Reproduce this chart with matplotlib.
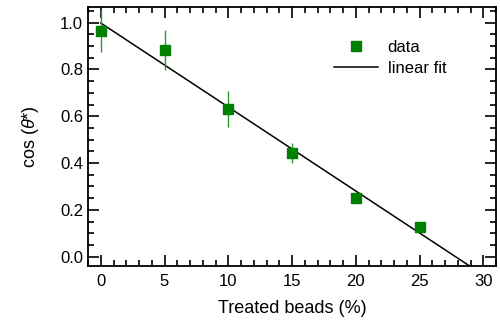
import numpy as np
import matplotlib
matplotlib.use("Agg")
import matplotlib.pyplot as plt
from matplotlib.lines import Line2D
from matplotlib.ticker import MultipleLocator

# data
beads = [0, 5, 10, 15, 20, 25]
cos_theta = [0.966, 0.883, 0.631, 0.442, 0.252, 0.126]
cos_err = [0.09, 0.085, 0.075, 0.043, 0.012, 0.01]
x_ticks = [0, 5, 10, 15, 20, 25, 30]
y_ticks = [0.0, 0.2, 0.4, 0.6, 0.8, 1.0]

plt.rcParams["font.family"] = ["Liberation Sans", "DejaVu Sans"]
plt.rcParams["mathtext.fontset"] = "custom"
plt.rcParams["mathtext.it"] = "Liberation Sans:italic"
plt.rcParams["mathtext.rm"] = "Liberation Sans"

green = "#008000"

fig = plt.figure(figsize=(5.0, 3.27), dpi=100)
ax = fig.add_axes([0.176, 0.1865, 0.816, 0.792])

# linear fit through the points
slope, icpt = np.polyfit(beads, cos_theta, 1)
xf = np.array([0, 31])
ax.plot(xf, icpt + slope * xf, color="black", lw=1.1, zorder=2)

ax.errorbar(beads, cos_theta, yerr=cos_err, fmt="s", color=green,
            ecolor="#2a9a2a", elinewidth=1.0, markersize=7, capsize=0,
            zorder=3)

ax.set_xlim(-1, 31)
ax.set_ylim(-0.04, 1.067)
ax.set_xticks(x_ticks)
ax.set_yticks(y_ticks)
ax.set_yticklabels([f"{v:.1f}" for v in y_ticks])
ax.xaxis.set_minor_locator(MultipleLocator(1))
ax.yaxis.set_minor_locator(MultipleLocator(0.05))
ax.tick_params(which="both", direction="in", top=True, right=True, width=1.2,
               labelsize=12)
ax.tick_params(which="major", length=8)
ax.tick_params(which="minor", length=4.5)
ax.tick_params(axis="x", pad=6)
for s in ax.spines.values():
    s.set_linewidth(1.3)

ax.set_xlabel("Treated beads (%)", fontsize=13, labelpad=8)
ax.set_ylabel(r"cos ($\theta$*)", fontsize=13, labelpad=14)

handles = [
    Line2D([], [], ls="none", marker="s", color=green, markersize=7),
    Line2D([], [], color="black", lw=1.1),
]
ax.legend(handles, ["data", "linear fit"], loc="upper right",
          bbox_to_anchor=(0.915, 0.93), frameon=False, fontsize=12,
          handlelength=2.6, handletextpad=0.6, labelspacing=0.35)

fig.savefig("out.png", dpi=100)
